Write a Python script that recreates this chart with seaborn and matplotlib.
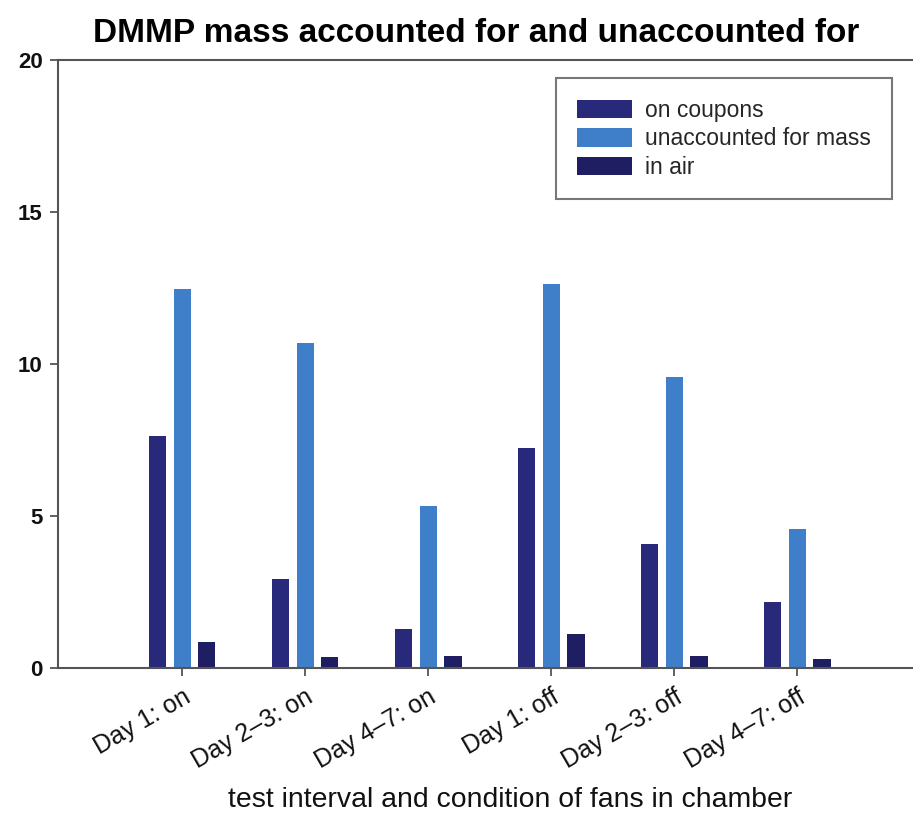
import matplotlib
matplotlib.use("Agg")
import matplotlib.pyplot as plt
import seaborn as sns
import pandas as pd

intervals = ["Day 1: on", "Day 2\u20133: on", "Day 4\u20137: on",
             "Day 1: off", "Day 2\u20133: off", "Day 4\u20137: off"]
series_names = ["on coupons", "unaccounted for mass", "in air"]
on_coupons = [7.63, 2.93, 1.29, 7.23, 4.08, 2.17]
unaccounted = [12.47, 10.68, 5.33, 12.63, 9.57, 4.57]
in_air = [0.86, 0.36, 0.39, 1.12, 0.39, 0.30]
y_ticks = [0, 5, 10, 15, 20]

colors = ["#28297a", "#3f7fca", "#1f1e63"]

df = pd.DataFrame({
    "interval": intervals * 3,
    "series": [s for s in series_names for _ in intervals],
    "mass": on_coupons + unaccounted + in_air,
})

sns.set_theme(style="white")
plt.rcParams["font.family"] = ["Liberation Sans", "DejaVu Sans"]

fig = plt.figure(figsize=(9.13, 8.19), dpi=100)
ax = fig.add_axes([58 / 913, 1 - 668 / 819, 1 - 58 / 913, (668 - 60) / 819])

sns.barplot(data=df, x="interval", y="mass", hue="series", order=intervals,
            hue_order=series_names, palette=colors, width=0.6, gap=0.3,
            saturation=1, edgecolor="none", ax=ax)

ax.set_xlim(-1.01, 5.94)
ax.set_ylim(0, 20)
ax.set_yticks(y_ticks)
ax.set_yticklabels([str(t) for t in y_ticks], fontsize=16, fontweight="bold")
ax.set_xticks(range(len(intervals)))
ax.set_xticklabels(intervals, rotation=30, ha="right", rotation_mode="anchor",
                   fontsize=18)

for side in ["left", "bottom", "top"]:
    ax.spines[side].set_color("#555555")
    ax.spines[side].set_linewidth(1.5)
ax.spines["right"].set_visible(False)
ax.tick_params(axis="both", direction="out", length=6, width=1.3,
               color="#555555", left=True, bottom=True, labelcolor="#111111")
ax.tick_params(axis="x", pad=6)
ax.tick_params(axis="y", pad=5)

ax.set_xlabel("test interval and condition of fans in chamber", fontsize=20.4,
              color="#111111")
ax.xaxis.set_label_coords((510 - 58) / 855, -(800 - 668) / 608)
ax.xaxis.label.set_va("center")
ax.set_ylabel("")
fig.suptitle("DMMP mass accounted for and unaccounted for", fontsize=24,
             fontweight="bold", x=0.522, y=0.978, color="#000000")

leg = ax.legend(loc="upper right", bbox_to_anchor=(0.975, 0.97),
                borderaxespad=0, fontsize=16.5, handlelength=2.4,
                handleheight=0.87, handletextpad=0.57, labelspacing=0.24,
                borderpad=0.9, fancybox=False, framealpha=1, title=None)
leg.get_frame().set_edgecolor("#777777")
leg.get_frame().set_linewidth(1.5)

fig.savefig("out.png", dpi=100)
